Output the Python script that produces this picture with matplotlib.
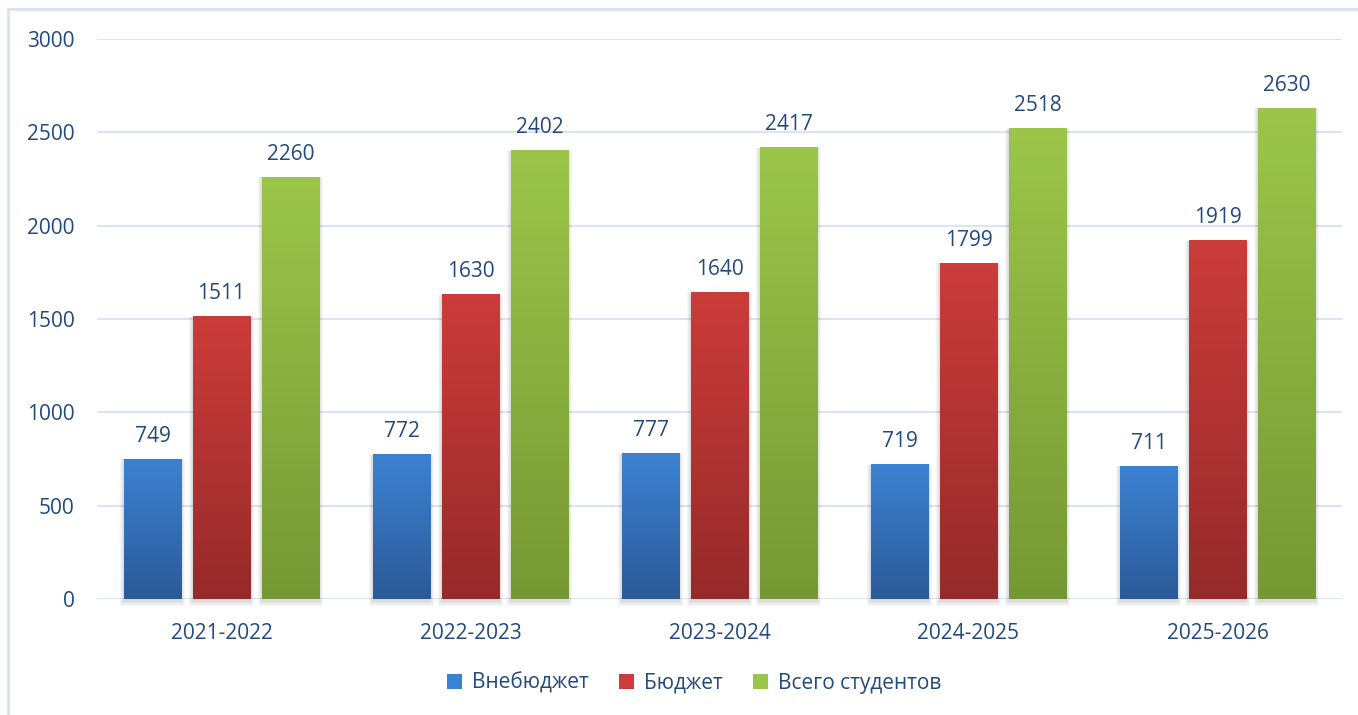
import numpy as np
import matplotlib.pyplot as plt
from matplotlib.patches import Rectangle, Patch
from matplotlib.colors import LinearSegmentedColormap

# data
years = ['2021-2022', '2022-2023', '2023-2024', '2024-2025', '2025-2026']
vnebudzhet = [749, 772, 777, 719, 711]
budzhet = [1511, 1630, 1640, 1799, 1919]
vsego = [2260, 2402, 2417, 2518, 2630]
series_names = ['Внебюджет', 'Бюджет', 'Всего студентов']

# gradient colors (top, bottom)
grads = [('#3C82D2', '#2B5A98'), ('#CB3C3A', '#962A2A'), ('#9CC64A', '#769834')]
text_color = '#234A7C'
grid_color = '#D9E4F4'

plt.rcParams['font.family'] = ['Open Sans', 'DejaVu Sans']

fig = plt.figure(figsize=(13.58, 7.15), dpi=100)
ax = fig.add_axes([97 / 1358, 1 - 599 / 715, 1245 / 1358, 560 / 715])

# frame around the chart
fig.patches.append(Rectangle((8 / 1358, -0.05), 1.2, (1 - 9 / 715) + 0.05,
                             transform=fig.transFigure, fill=False,
                             edgecolor='#D6E2F3', linewidth=2, zorder=0))

x = np.arange(len(years))
width = 0.229
offset = 0.277
grad = np.linspace(0, 1, 256).reshape(-1, 1)

for i, vals in enumerate([vnebudzhet, budzhet, vsego]):
    cmap = LinearSegmentedColormap.from_list('g%d' % i, [grads[i][1], grads[i][0]])
    for j, v in enumerate(vals):
        left = x[j] + (i - 1) * offset - width / 2
        # soft shadow
        for k in range(4):
            pad = 0.004 * (k + 1)
            ax.add_patch(Rectangle((left - pad, -18 - 6 * k), width + 2 * pad, v + 18 + 6 * k,
                                   facecolor='#000000', alpha=0.035, linewidth=0, zorder=2,
                                   clip_on=False))
        ax.imshow(grad, extent=(left, left + width, 0, v), origin='lower',
                  cmap=cmap, aspect='auto', zorder=3)
        ax.annotate(str(v), (x[j] + (i - 1) * offset, v), xytext=(0, 9),
                    textcoords='offset points', ha='center', va='bottom',
                    fontsize=15, color=text_color)

ax.set_xlim(-0.5, len(years) - 0.5)
ax.set_ylim(0, 3000)
ax.set_yticks(range(0, 3001, 500))
ax.set_xticks(x)
ax.set_xticklabels(years)
ax.tick_params(axis='both', length=0, labelsize=15, labelcolor=text_color)
ax.tick_params(axis='y', pad=16)
ax.tick_params(axis='x', pad=17)
ax.grid(axis='y', color=grid_color, linewidth=1.5, zorder=0)
ax.set_axisbelow(True)
for s in ax.spines.values():
    s.set_visible(False)

handles = [Patch(facecolor=grads[i][0], edgecolor='none') for i in range(3)]
fig.legend(handles, series_names, loc='center', bbox_to_anchor=(0.511, 1 - 683 / 715),
           ncol=3, frameon=False, fontsize=15, labelcolor=text_color,
           handlelength=0.75, handleheight=0.75, handletextpad=0.45, columnspacing=1.45)

fig.savefig('out.png', dpi=100)
